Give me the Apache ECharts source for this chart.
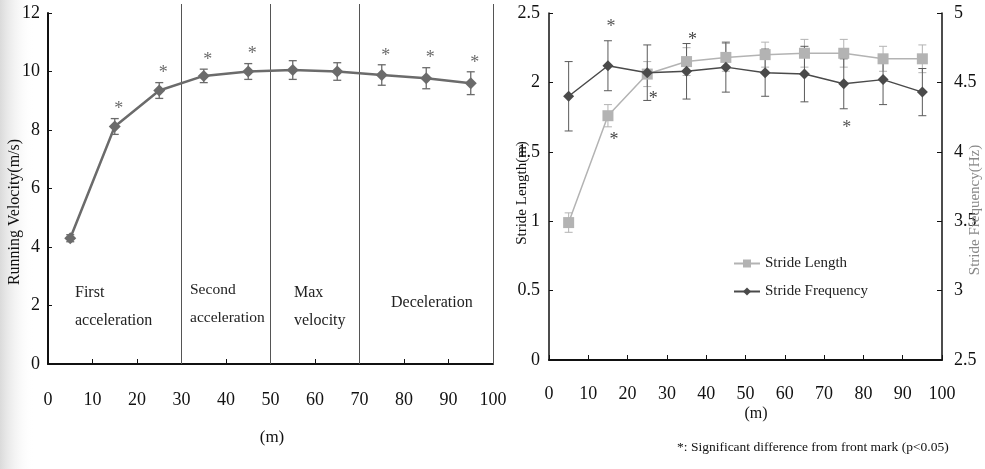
<!DOCTYPE html>
<html>
<head>
<meta charset="utf-8">
<script src="https://cdn.jsdelivr.net/npm/echarts@6/dist/echarts.min.js"></script>
<style>html,body{margin:0;padding:0;background:#fff}#c{width:985px;height:469px}</style>
</head>
<body>
<div id="c"></div>
<script>
// ---- data ----
const distance = [5, 15, 25, 35, 45, 55, 65, 75, 85, 95];
const xTicks = [0, 10, 20, 30, 40, 50, 60, 70, 80, 90, 100];
const velocity = [4.3, 8.12, 9.35, 9.85, 10.0, 10.05, 10.0, 9.88, 9.77, 9.6];
const velocityErr = [0.12, 0.27, 0.27, 0.23, 0.27, 0.32, 0.3, 0.35, 0.36, 0.39];
const velocitySig = [0, 1, 1, 1, 1, 0, 0, 1, 1, 1];
const phaseBounds = [30, 50, 70, 100];
const strideLength = [0.99, 1.76, 2.06, 2.15, 2.18, 2.2, 2.21, 2.21, 2.17, 2.17];
const strideLengthErr = [0.07, 0.08, 0.09, 0.1, 0.1, 0.09, 0.1, 0.1, 0.09, 0.1];
const strideLengthSig = [0, -1, -1, 1, 0, 0, 0, 0, 0, 0]; // 1 above, -1 below
const strideFreq = [4.40, 4.62, 4.57, 4.58, 4.61, 4.57, 4.56, 4.49, 4.52, 4.43];
const strideFreqErr = [0.25, 0.18, 0.2, 0.2, 0.18, 0.17, 0.2, 0.18, 0.18, 0.17];
const strideFreqSig = [0, 1, 0, 0, 0, 0, 0, -1, 0, 0];

const FONT = 'Liberation Serif';
const velColor = '#6b6b6b';
const lenColor = '#b3b3b3';
const freqColor = '#4a4a4a';

function zip3(a, b, c) { return a.map((x, i) => [x, b[i], c[i]]); }
function zip4(a, b, c, d) { return a.map((x, i) => [x, b[i], c[i], d[i]]); }

function errRender(color, lw) {
  return function (params, api) {
    const x = api.value(0), v = api.value(1), e = api.value(2);
    const t = api.coord([x, v + e]), b = api.coord([x, v - e]);
    const hw = 4;
    const st = { stroke: color, lineWidth: lw };
    return { type: 'group', children: [
      { type: 'line', shape: { x1: t[0], y1: t[1], x2: b[0], y2: b[1] }, style: st },
      { type: 'line', shape: { x1: t[0] - hw, y1: t[1], x2: t[0] + hw, y2: t[1] }, style: st },
      { type: 'line', shape: { x1: b[0] - hw, y1: b[1], x2: b[0] + hw, y2: b[1] }, style: st }
    ]};
  };
}

function sigRender(color, gap, dx) {
  return function (params, api) {
    const x = api.value(0), v = api.value(1), e = api.value(2), d = api.value(3);
    if (!d) return null;
    const p = api.coord([x, d > 0 ? v + e : v - e]);
    return { type: 'text', style: { text: '*', x: p[0] + dx, y: p[1] + (d > 0 ? -gap : gap + 6),
      fill: color, font: '18px ' + FONT, textAlign: 'center', textVerticalAlign: 'middle' } };
  };
}

const axisLab = { fontFamily: FONT, fontSize: 18, color: '#111' };

function xAxisDef(grid, margin) {
  return { gridIndex: grid, type: 'value', min: xTicks[0], max: xTicks[xTicks.length - 1], interval: 10,
    axisLine: { lineStyle: { color: '#111', width: 2 } },
    axisTick: { inside: true, length: 5, lineStyle: { color: '#111' } },
    axisLabel: Object.assign({ margin: margin }, axisLab), splitLine: { show: false } };
}

const chart = echarts.init(document.getElementById('c'), null, { renderer: 'canvas' });

const option = {
  backgroundColor: '#fff',
  animation: false,
  grid: [
    { left: 48, top: 13, width: 445, height: 351 },
    { left: 549, top: 13, width: 393, height: 347 }
  ],
  xAxis: [ xAxisDef(0, 27), xAxisDef(1, 25) ],
  yAxis: [
    { gridIndex: 0, type: 'value', min: 0, max: 12, interval: 2,
      axisLine: { show: true, lineStyle: { color: '#111', width: 2 } },
      axisTick: { show: true, inside: true, length: 4, lineStyle: { color: '#111' } },
      axisLabel: Object.assign({ margin: 8 }, axisLab), splitLine: { show: false } },
    { gridIndex: 1, type: 'value', min: 0, max: 2.5, interval: 0.5,
      axisLine: { show: true, lineStyle: { color: '#111', width: 1.5 } },
      axisTick: { show: true, inside: true, length: 4, lineStyle: { color: '#111' } },
      axisLabel: Object.assign({ margin: 9 }, axisLab), splitLine: { show: false } },
    { gridIndex: 1, type: 'value', position: 'right', min: 2.5, max: 5, interval: 0.5,
      axisLine: { show: true, lineStyle: { color: '#111', width: 1.5 } },
      axisTick: { show: true, inside: true, length: 5, lineStyle: { color: '#111' } },
      axisLabel: Object.assign({ margin: 12 }, axisLab), splitLine: { show: false } }
  ],
  legend: {
    orient: 'vertical', left: 728, top: 251, itemGap: 13, itemWidth: 26, itemHeight: 10,
    textStyle: { fontFamily: FONT, fontSize: 15, color: '#222' },
    data: ['Stride Length', 'Stride Frequency']
  },
  series: [
    { name: 'Running Velocity', type: 'line', xAxisIndex: 0, yAxisIndex: 0,
      data: distance.map((d, i) => [d, velocity[i]]),
      symbol: 'diamond', symbolSize: 12, lineStyle: { color: velColor, width: 2.5 },
      itemStyle: { color: velColor }, z: 5,
      markLine: { silent: true, symbol: 'none', label: { show: false },
        lineStyle: { color: '#555', width: 1, type: 'solid' },
        data: phaseBounds.map(b => [{ xAxis: b, y: 4 }, { xAxis: b, yAxis: 0 }]) } },
    { type: 'custom', xAxisIndex: 0, yAxisIndex: 0, data: zip3(distance, velocity, velocityErr),
      renderItem: errRender(velColor, 1.3), z: 4 },
    { type: 'custom', xAxisIndex: 0, yAxisIndex: 0, data: zip4(distance, velocity, velocityErr, velocitySig),
      renderItem: sigRender(velColor, 9, 4), z: 4 },

    { name: 'Stride Length', type: 'line', xAxisIndex: 1, yAxisIndex: 1,
      data: distance.map((d, i) => [d, strideLength[i]]),
      symbol: 'rect', symbolSize: 11, lineStyle: { color: lenColor, width: 1.5 },
      itemStyle: { color: lenColor }, z: 5 },
    { type: 'custom', xAxisIndex: 1, yAxisIndex: 1, data: zip3(distance, strideLength, strideLengthErr),
      renderItem: errRender(lenColor, 1), z: 3 },
    { type: 'custom', xAxisIndex: 1, yAxisIndex: 1, data: zip4(distance, strideLength, strideLengthErr, strideLengthSig),
      renderItem: sigRender('#444', 7, 6), z: 4 },

    { name: 'Stride Frequency', type: 'line', xAxisIndex: 1, yAxisIndex: 2,
      data: distance.map((d, i) => [d, strideFreq[i]]),
      symbol: 'diamond', symbolSize: 11, lineStyle: { color: freqColor, width: 1.5 },
      itemStyle: { color: freqColor }, z: 6 },
    { type: 'custom', xAxisIndex: 1, yAxisIndex: 2, data: zip3(distance, strideFreq, strideFreqErr),
      renderItem: errRender('#5a5a5a', 1), z: 3 },
    { type: 'custom', xAxisIndex: 1, yAxisIndex: 2, data: zip4(distance, strideFreq, strideFreqErr, strideFreqSig),
      renderItem: sigRender('#555', 13, 3), z: 4 }
  ],
  graphic: [
    { type: 'rect', left: 0, top: 0, z: -10, shape: { width: 34, height: 469 },
      style: { fill: new echarts.graphic.LinearGradient(0, 0, 1, 0, [
        { offset: 0, color: 'rgba(150,150,150,0.35)' }, { offset: 1, color: 'rgba(255,255,255,0)' }]) } },
    { type: 'text', x: 15, y: 212, rotation: Math.PI / 2, z: 10,
      style: { text: 'Running Velocity(m/s)', font: '16px ' + FONT, fill: '#111', textAlign: 'center', textVerticalAlign: 'middle' } },
    { type: 'text', x: 272, y: 438, z: 10,
      style: { text: '(m)', font: '17px ' + FONT, fill: '#111', textAlign: 'center', textVerticalAlign: 'middle' } },
    { type: 'text', x: 75, y: 279, z: 10,
      style: { text: 'First\nacceleration', font: '16px ' + FONT, fill: '#222', lineHeight: 28, textAlign: 'left' } },
    { type: 'text', x: 190, y: 276, z: 10,
      style: { text: 'Second\nacceleration', font: '15.5px ' + FONT, fill: '#222', lineHeight: 28, textAlign: 'left' } },
    { type: 'text', x: 294, y: 279, z: 10,
      style: { text: 'Max\nvelocity', font: '16px ' + FONT, fill: '#222', lineHeight: 28, textAlign: 'left' } },
    { type: 'text', x: 391, y: 295, z: 10,
      style: { text: 'Deceleration', font: '16px ' + FONT, fill: '#222', textAlign: 'left' } },
    { type: 'text', x: 522, y: 193, rotation: Math.PI / 2, z: 10,
      style: { text: 'Stride Length(m)', font: '15px ' + FONT, fill: '#111', textAlign: 'center', textVerticalAlign: 'middle' } },
    { type: 'text', x: 975, y: 210, rotation: Math.PI / 2, z: 10,
      style: { text: 'Stride Frequency(Hz)', font: '15px ' + FONT, fill: '#888', textAlign: 'center', textVerticalAlign: 'middle' } },
    { type: 'text', x: 756, y: 414, z: 10,
      style: { text: '(m)', font: '16px ' + FONT, fill: '#111', textAlign: 'center', textVerticalAlign: 'middle' } },
    { type: 'text', x: 677, y: 447, z: 10,
      style: { text: '*: Significant difference from front mark (p<0.05)', font: '13.5px ' + FONT, fill: '#111', textAlign: 'left', textVerticalAlign: 'middle' } }
  ]
};
chart.setOption(option);
</script>
</body>
</html>
